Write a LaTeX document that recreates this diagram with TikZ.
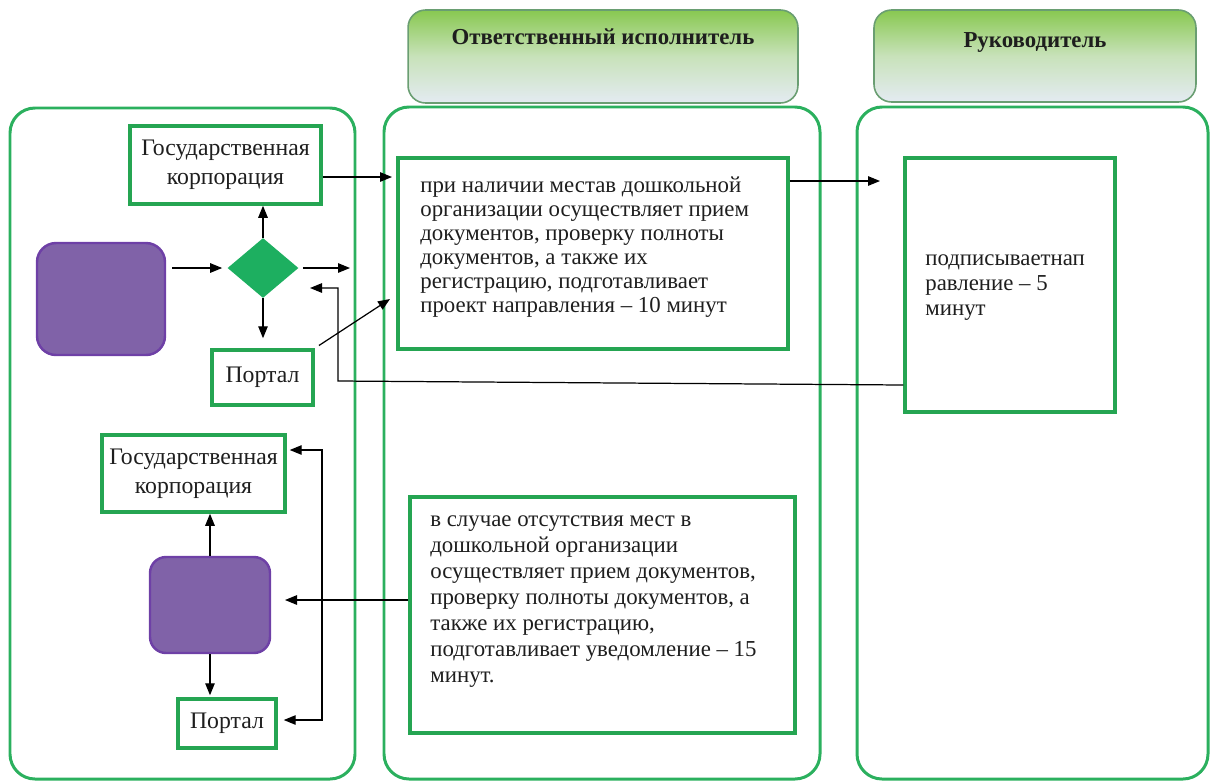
\documentclass[tikz,border=0pt]{standalone}
\usepackage{fontspec}
\setmainfont{Liberation Serif}
\usetikzlibrary{shapes.geometric,arrows.meta}

\begin{document}
\begin{tikzpicture}[x=0.02cm,y=-0.02cm,
  lane/.style={draw=colLane, line width=1.7pt, rounded corners=0.5cm},
  hdr/.style={draw=colHdrLine, line width=0.9pt, rounded corners=0.35cm,
    top color=colHdrTop, bottom color=colHdrBot, middle color=colHdrMid},
  box/.style={draw=colBox, line width=2pt, fill=white, inner sep=0pt,
    align=center, text=colTxt, font=\fontsize{13.5}{16.5}\selectfont},
  blob/.style={draw=colPurLine, fill=colPur, line width=1.4pt, rounded corners=0.38cm},
  txt/.style={anchor=north west, align=left, inner sep=0pt, text=colTxt},
  arr/.style={-{Triangle[length=0.24cm,width=0.19cm]}, line width=0.7pt}
]

% Colori
\definecolor{colLane}{HTML}{2BB05E}
\definecolor{colBox}{HTML}{25A552}
\definecolor{colDia}{HTML}{1DAF60}
\definecolor{colPur}{HTML}{8062A8}
\definecolor{colPurLine}{HTML}{6E40A6}
\definecolor{colHdrTop}{HTML}{88C850}
\definecolor{colHdrMid}{HTML}{C8E2BA}
\definecolor{colHdrBot}{HTML}{E4EBF2}
\definecolor{colHdrLine}{HTML}{6A9E72}
\definecolor{colTxt}{HTML}{1E1E1E}

\useasboundingbox (0,0) rectangle (1211,782);

% Corsie
\draw[lane] (10,108) rectangle (355,779);
\draw[lane] (384,107) rectangle (820,779);
\draw[lane] (857,107) rectangle (1208,779);

% Intestazioni
\node[hdr, minimum width=7.8cm, minimum height=1.86cm] (hdrResp) at (603,56.5) {};
\node[font=\bfseries\fontsize{13}{15}\selectfont, text=colTxt] (hdrRespTxt) at (603,37) {Ответственный исполнитель};
\node[hdr, minimum width=6.44cm, minimum height=1.84cm] (hdrBoss) at (1035,56) {};
\node[font=\bfseries\fontsize{13}{15}\selectfont, text=colTxt] (hdrBossTxt) at (1035,42) {Руководитель};

% Corsia sinistra, parte alta
\node[box, minimum width=3.82cm, minimum height=1.56cm] (gos1) at (225.5,165) {Государственная\\корпорация};
\node[blob, minimum width=2.56cm, minimum height=2.24cm] (purp1) at (101,299) {};
\node[shape=diamond, fill=colDia, inner sep=0pt, minimum width=1.42cm, minimum height=1.2cm] (dia) at (263,268) {};
\node[box, minimum width=2.02cm, minimum height=1.1cm] (portal1) at (262.5,377.5) {Портал};

% Corsia sinistra, parte bassa
\node[box, minimum width=3.66cm, minimum height=1.54cm] (gos2) at (193.5,473.5) {Государственная\\корпорация};
\node[blob, rounded corners=0.32cm, minimum width=2.4cm, minimum height=1.92cm] (purp2) at (210,605) {};
\node[box, minimum width=1.96cm, minimum height=0.98cm] (portal2) at (227,723.5) {Портал};

% Ответственный исполнитель
\node[box, minimum width=7.8cm, minimum height=3.82cm] (step1) at (593,253.5) {};
\node[txt, font=\fontsize{13}{13.6}\selectfont] (step1txt) at (420,177) {при наличии местав дошкольной\\организации осуществляет прием\\документов, проверку полноты\\документов, а также их\\регистрацию, подготавливает\\проект направления – 10 минут};
\node[box, minimum width=7.7cm, minimum height=4.72cm] (step2) at (602.5,615) {};
\node[txt, font=\fontsize{13}{14.8}\selectfont] (step2txt) at (430,515) {в случае отсутствия мест в\\дошкольной организации\\осуществляет прием документов,\\проверку полноты документов, а\\также их регистрацию,\\подготавливает уведомление – 15\\минут.};

% Руководитель
\node[box, minimum width=4.2cm, minimum height=5.08cm] (boss) at (1010,285) {};
\node[txt, font=\fontsize{13}{14.2}\selectfont] (bosstxt) at (925,254) {подписываетнап\\равление – 5\\минут};

% Punti liberi
\coordinate (diaOut) at (350,268);
\coordinate (g1In) at (392,177);
\coordinate (p1In) at (390,299);
\coordinate (bossIn) at (880,181);
\coordinate (fbStart) at (0,385);
\coordinate (fbA) at (338,381);
\coordinate (fbB) at (338,288);
\coordinate (fbEnd) at (310,288);
\coordinate (p2In) at (285,600);
\coordinate (brTop) at (322,450);
\coordinate (brBot) at (322,720);

% Frecce
\draw[arr, shorten <=0.12cm, shorten >=0.1cm] (purp1.east |- dia.west) -- (dia.west);
\draw[arr, shorten <=0.08cm] (dia.east) -- (diaOut);
\draw[arr] (dia.north) -- (dia.north |- gos1.south);
\draw[arr, shorten >=0.2cm] (dia.south) -- (dia.south |- portal1.north);
\draw[arr] (gos1.east |- g1In) -- (g1In);
\draw[arr, shorten <=0.1cm] (portal1.north east) -- (p1In);
\draw[arr] (step1.east |- bossIn) -- (bossIn);
\draw[arr] (boss.west |- fbStart) -- (fbA) -- (fbB) -- (fbEnd);
\draw[arr] (step2.west |- p2In) -- (p2In);
\draw[arr] (purp2.north) -- (purp2.north |- gos2.south);
\draw[arr, shorten >=0.04cm] (purp2.south) -- (purp2.south |- portal2.north);
\draw[{Triangle[length=0.24cm,width=0.19cm]}-{Triangle[length=0.24cm,width=0.19cm]}, line width=0.7pt, shorten <=0.06cm, shorten >=0.12cm]
  (gos2.east |- brTop) -- (brTop) -- (brBot) -- (portal2.east |- brBot);

\end{tikzpicture}
\end{document}
